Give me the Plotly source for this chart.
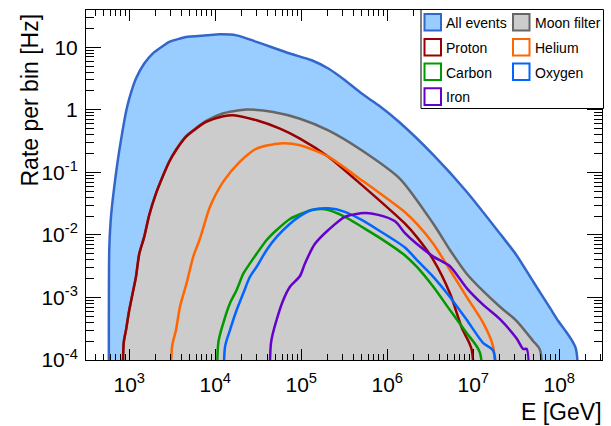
import math
import plotly.graph_objects as go

# ---------------- data ----------------
all_E = [585, 606, 641, 700, 766, 838, 916, 1000, 1197, 1493, 1871, 2443, 2917, 3890, 4560,
         7940, 11350, 17730, 30270, 73900, 132100, 206300, 322200, 503500, 785000, 1406000,
         3430000, 8380000, 2.042e7, 3.198e7, 4.989e7, 7.8e7, 9.73e7, 1.219e8, 1.563e8]
all_R = [5.7e-3, 0.016, 0.036, 0.095, 0.226, 0.472, 0.925, 1.51, 3.16, 5.5, 7.94, 10.4, 12.2,
         13.8, 14.6, 15.5, 16.1, 15.5, 12.2, 7.94, 6.2, 4.57, 2.97, 1.82, 1.19, 0.62,
         0.19, 0.049, 0.0105, 4.7e-3, 1.78e-3, 6.8e-4, 4.2e-4, 2.75e-4, 1.5e-4]

moon_E = [861, 916, 1000, 1096, 1197, 1307, 1493, 1709, 2043, 2443, 2917, 3492, 4560, 5970, 7940,
          12400, 16190, 23190, 47240, 96600, 206300, 503500, 1406000, 3430000, 5354000, 8380000,
          1.307e7, 2.042e7, 3.198e7, 4.989e7, 5.97e7]
moon_R = [1.9e-4, 3.0e-4, 6.3e-4, 1.18e-3, 2.15e-3, 5.0e-3, 9.4e-3, 0.021, 0.046, 0.086, 0.15, 0.23,
          0.38, 0.51, 0.67, 0.88, 0.95, 1.01, 0.925, 0.72, 0.47, 0.226, 0.079, 0.0151, 5.75e-3,
          2.4e-3, 1.26e-3, 7.1e-4, 4.2e-4, 2.0e-4, 1.45e-4]

p_E = [861, 916, 1000, 1096, 1197, 1307, 1493, 1709, 2043, 2443, 2917, 3492, 4560, 5970, 7940,
       12400, 16190, 30270, 56500, 96600, 206300, 503500, 1608000, 2198000, 3430000, 5354000,
       7400000, 9600000]
p_R = [1.86e-4, 3.0e-4, 6.3e-4, 1.17e-3, 2.14e-3, 5.0e-3, 9.3e-3, 0.0209, 0.0457, 0.085, 0.148,
       0.226, 0.37, 0.50, 0.645, 0.79, 0.82, 0.68, 0.50, 0.347, 0.178, 0.063, 0.0151, 9.3e-3,
       4.0e-3, 1.17e-3, 3.2e-4, 1.45e-4]

he_E = [3139, 3492, 3890, 4645, 5550, 6640, 8670, 12400, 19370, 30270, 56500, 96600, 206300,
        503500, 1608000, 2198000, 3430000, 5354000, 8380000, 1.307e7, 1.709e7]
he_R = [1.6e-4, 3.0e-4, 7.1e-4, 1.7e-3, 4.5e-3, 8.7e-3, 0.028, 0.071, 0.148, 0.24, 0.29, 0.272,
        0.178, 0.075, 0.023, 0.0151, 7.2e-3, 2.75e-3, 1.02e-3, 3.9e-4, 1.6e-4]

c_E = [10840, 12400, 14830, 17730, 21180, 25310, 30270, 39600, 51750, 73900, 96600, 132100,
       188600, 322200, 503500, 785000, 1608000, 2198000, 3430000, 5354000, 8380000, 1.197e7]
c_R = [1.86e-4, 3.9e-4, 8.1e-4, 1.32e-3, 2.4e-3, 3.5e-3, 5.0e-3, 8.3e-3, 0.012, 0.018, 0.0214,
       0.025, 0.0257, 0.0195, 0.0135, 9.3e-3, 4.7e-3, 3.1e-3, 1.48e-3, 6.3e-4, 2.7e-4, 1.3e-4]

o_E = [12970, 14830, 17730, 21180, 25310, 30270, 39600, 51750, 73900, 96600, 132100, 206300,
       322200, 503500, 785000, 1608000, 2198000, 3430000, 5354000, 8380000, 1.307e7, 1.709e7]
o_R = [1.6e-4, 3.0e-4, 6.3e-4, 1.17e-3, 2.14e-3, 3.1e-3, 5.75e-3, 9.3e-3, 0.0151, 0.02, 0.025,
       0.0266, 0.0234, 0.0174, 0.012, 6.3e-3, 4.0e-3, 2.14e-3, 1.02e-3, 4.4e-4, 1.86e-4, 1.4e-4]

fe_E = [44450, 51750, 61800, 73900, 96600, 110400, 144300, 206300, 322200, 550200, 785000,
        1230000, 1608000, 2198000, 3430000, 5354000, 8380000, 1.307e7, 2.042e7, 3.198e7,
        3.813e7, 4.178e7]
fe_R = [1.86e-4, 4.4e-4, 9.1e-4, 1.48e-3, 2.2e-3, 3.5e-3, 7.2e-3, 0.012, 0.0195, 0.0224, 0.0209,
        0.0165, 0.0107, 7.2e-3, 4.5e-3, 3.16e-3, 1.41e-3, 7.6e-4, 4.5e-4, 2.2e-4, 1.5e-4, 1.5e-4]

x_tickvals = [1e3, 1e4, 1e5, 1e6, 1e7, 1e8]
x_ticktext = ["10<sup>3</sup>", "10<sup>4</sup>", "10<sup>5</sup>", "10<sup>6</sup>",
              "10<sup>7</sup>", "10<sup>8</sup>"]
y_tickvals = [1e-4, 1e-3, 1e-2, 1e-1, 1, 10]
y_ticktext = ["10<sup>-4</sup>", "10<sup>-3</sup>", "10<sup>-2</sup>", "10<sup>-1</sup>", "1", "10"]

x_title = "E [GeV]"
y_title = "Rate per bin [Hz]"

# ---------------- styles ----------------
FLOOR = 1e-7  # below the axis minimum: histogram edges drop off the plot
FONT = "Liberation Sans, Arial, Helvetica, sans-serif"

series = [
    # name, E, R, line color, fill color (None = outline only)
    ("All events", all_E, all_R, "#3366cc", "#99ccff"),
    ("Moon filter", moon_E, moon_R, "#666666", "#cccccc"),
    ("Proton", p_E, p_R, "#990000", None),
    ("Helium", he_E, he_R, "#ff6600", None),
    ("Carbon", c_E, c_R, "#009900", None),
    ("Oxygen", o_E, o_R, "#0066ff", None),
    ("Iron", fe_E, fe_R, "#6600cc", None),
]

fig = go.Figure()
for name, E, R, lc, fc in series:
    xs = [E[0]] + list(E) + [E[-1]]
    ys = [FLOOR] + list(R) + [FLOOR]
    fig.add_trace(go.Scatter(
        x=xs, y=ys, mode="lines", name=name, showlegend=False,
        line=dict(color=lc, width=2.5, shape="spline", smoothing=0.7),
        fill="toself" if fc else "none",
        fillcolor=fc if fc else None,
        hoverinfo="skip",
    ))

W, H = 611, 426
L, R_, T, B = 86, 9, 10, 66
pw, ph = W - L - R_, H - T - B


def px(x):
    return (x - L) / pw


def py(y):
    return (H - B - y) / ph


# ---------------- legend (ROOT style box) ----------------
shapes = [dict(type="rect", xref="paper", yref="paper",
               x0=px(421), x1=px(603.5), y0=py(108.5), y1=py(9.5),
               line=dict(color="black", width=1), fillcolor="white", layer="above")]
annotations = []
cols = [(424.5, 441, 443.5), (513, 529.5, 532.5)]
rows = [22.2, 47.2, 71.8, 96.6]
for i, (name, E, R, lc, fc) in enumerate(series):
    r, c = divmod(i, 2)
    x0, x1, xt = cols[c]
    yc = rows[r]
    shapes.append(dict(type="rect", xref="paper", yref="paper",
                       x0=px(x0), x1=px(x1), y0=py(yc + 8.3), y1=py(yc - 8.3),
                       line=dict(color=lc, width=2), fillcolor=fc if fc else "white",
                       layer="above"))
    annotations.append(dict(text=name, xref="paper", yref="paper", x=px(xt), y=py(yc + 0.8),
                            xanchor="left", yanchor="middle", showarrow=False,
                            font=dict(family=FONT, size=14, color="black")))

# axis titles
annotations.append(dict(text=x_title, xref="paper", yref="paper", x=px(603.5), y=py(412),
                        xanchor="right", yanchor="middle", showarrow=False,
                        font=dict(family=FONT, size=23, color="black")))
annotations.append(dict(text=y_title, xref="paper", yref="paper", x=px(29), y=py(100.5),
                        xanchor="center", yanchor="middle", showarrow=False, textangle=-90,
                        font=dict(family=FONT, size=23, color="black")))

x_minor = [m * 10 ** k for k in range(2, 9) for m in range(2, 10)]
y_minor = [m * 10.0 ** k for k in range(-4, 2) for m in range(2, 10)]

axis_common = dict(
    type="log", tickmode="array", ticks="inside", tickwidth=1, tickcolor="black",
    showline=True, linecolor="black", linewidth=1, mirror="allticks", showgrid=False,
    zeroline=False, tickfont=dict(family=FONT, size=21, color="black"),
)

fig.update_xaxes(**axis_common, range=[math.log10(314), math.log10(3.14e8)], ticklen=11,
                 tickvals=x_tickvals, ticktext=x_ticktext, ticklabelstandoff=6,
                 minor=dict(ticks="inside", ticklen=6, tickwidth=1, tickcolor="black",
                            tickmode="array", tickvals=x_minor, showgrid=False))
fig.update_yaxes(**axis_common, range=[-4, 1.596], ticklen=15,
                 tickvals=y_tickvals, ticktext=y_ticktext, ticklabelstandoff=3,
                 minor=dict(ticks="inside", ticklen=8, tickwidth=1, tickcolor="black",
                            tickmode="array", tickvals=y_minor, showgrid=False))

fig.update_layout(
    width=W, height=H, margin=dict(l=L, r=R_, t=T, b=B, pad=0),
    paper_bgcolor="white", plot_bgcolor="white",
    shapes=shapes, annotations=annotations, showlegend=False,
    font=dict(family=FONT, color="black"),
)

fig.write_html("out.html", config={"displayModeBar": False},
               post_script="document.body.style.margin='0';document.body.style.overflow='hidden';")
